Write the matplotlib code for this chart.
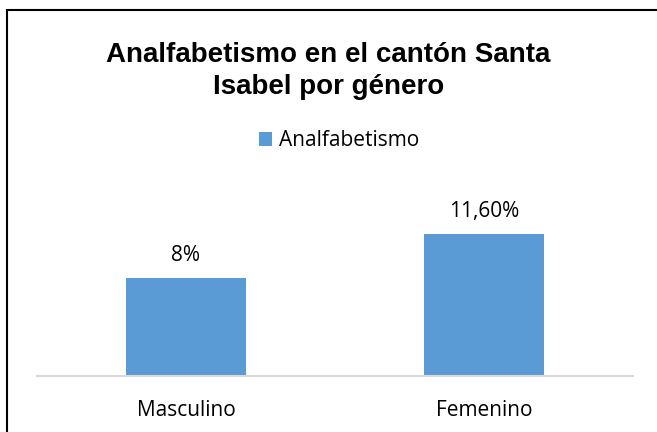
import matplotlib
matplotlib.use('Agg')
import matplotlib.pyplot as plt
from matplotlib.patches import Rectangle

categorias = ['Masculino', 'Femenino']
valores = [8.0, 11.6]
etiquetas = ['8%', '11,60%']
serie = 'Analfabetismo'
titulo = 'Analfabetismo en el cantón Santa\nIsabel por género'

W, H = 657, 432
fig = plt.figure(figsize=(W / 100, H / 100), dpi=100)
fig.patch.set_facecolor('white')

# plot area in pixels: x 37..633, baseline at y=376, top at y=160
ax = fig.add_axes([37 / W, 1 - 376 / H, 596 / W, 216 / H])
bars = ax.bar(range(len(categorias)), valores, width=0.4, color='#5b9bd5', label=serie)
ax.set_xlim(-0.5, 1.5)
ax.set_ylim(0, 216 / 12.25)

for s in ['top', 'right', 'left']:
    ax.spines[s].set_visible(False)
ax.spines['bottom'].set_color('#d9d9d9')
ax.spines['bottom'].set_linewidth(1.5)
ax.set_yticks([])
ax.set_xticks([])

# category labels under the axis
for i, c in enumerate(categorias):
    ax.annotate(c, (i, 0), xycoords=('data', 'axes fraction'), xytext=(0, -28.6),
                textcoords='offset points', ha='center', va='baseline',
                fontsize=15, family='Open Sans')

# data labels
for b, t in zip(bars, etiquetas):
    ax.annotate(t, (b.get_x() + b.get_width() / 2, b.get_height()),
                xytext=(0, 12.3), textcoords='offset points', ha='center', va='baseline',
                fontsize=15, family='Open Sans')

fig.text(0.5, 1 - 71 / H, titulo, ha='center', va='center', fontsize=20,
         fontweight='bold', family='Liberation Sans', linespacing=1.28)

leg = fig.legend(loc='center', bbox_to_anchor=(339 / W, 1 - 141 / H), frameon=False,
                 prop={'family': 'Open Sans', 'size': 15}, handlelength=0.625,
                 handleheight=0.625, handletextpad=0.35, borderpad=0, borderaxespad=0)

# chart frame, cut off at right and bottom
fig.add_artist(Rectangle((7 / W, -0.1), 1.0, (H - 10) / H + 0.1, transform=fig.transFigure,
                         fill=False, edgecolor='black', linewidth=1.5))

fig.savefig('out.png', dpi=100)
